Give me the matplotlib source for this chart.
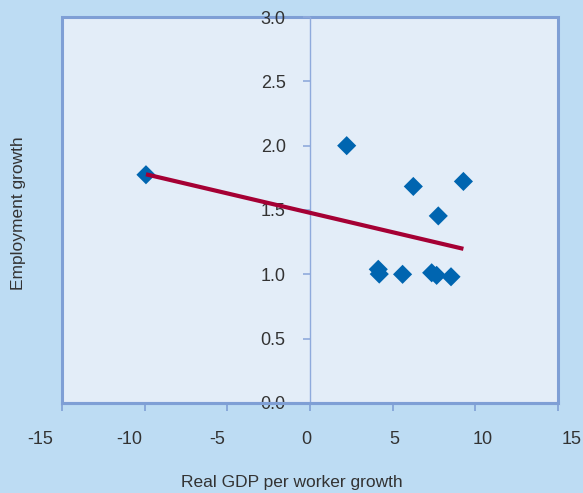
import numpy as np
import matplotlib
matplotlib.use("Agg")
import matplotlib.pyplot as plt
from matplotlib.patches import Rectangle
from matplotlib.transforms import ScaledTranslation

# Real GDP per worker growth vs employment growth
gdp_growth = [-9.92, 2.22, 6.25, 9.28, 7.76, 4.13, 4.19, 5.60, 7.36, 7.66, 8.53]
emp_growth = [1.774, 2.00, 1.683, 1.722, 1.454, 1.039, 1.002, 1.000, 1.012, 0.992, 0.981]

x_ticks = [-15, -10, -5, 0, 5, 10, 15]
y_ticks = [0.0, 0.5, 1.0, 1.5, 2.0, 2.5, 3.0]

outer_bg = "#BDDCF3"
plot_bg = "#E3EDF8"
frame_col = "#7F9FD5"
axis_col = "#8FAADC"
marker_col = "#0065B0"
trend_col = "#A50034"
text_col = "#333333"

plt.rcParams["font.family"] = ["Liberation Sans", "DejaVu Sans"]

fig = plt.figure(figsize=(5.83, 4.93), dpi=100, facecolor=outer_bg)
ax = fig.add_axes([0.1063, 0.1826, 0.8508, 0.7829])
ax.set_facecolor(plot_bg)
ax.set_xlim(-15, 15)
ax.set_ylim(0, 3)

# Frame around the plotting area
ax.add_patch(Rectangle((0, 0), 1, 1, transform=ax.transAxes, fill=False,
                       edgecolor=frame_col, linewidth=2.2, clip_on=False, zorder=1))

for side in ("top", "right"):
    ax.spines[side].set_visible(False)
ax.spines["bottom"].set_color(frame_col)
ax.spines["bottom"].set_linewidth(2.2)
ax.spines["left"].set_position(("data", 0))
ax.spines["left"].set_color(axis_col)
ax.spines["left"].set_linewidth(1.0)

ax.set_xticks(x_ticks)
ax.set_xticklabels([str(v) for v in x_ticks])
ax.set_yticks(y_ticks)
ax.set_yticklabels([f"{v:.1f}" for v in y_ticks])
ax.tick_params(axis="x", direction="out", length=6, width=1.2, color=frame_col,
               pad=14, labelsize=13, labelcolor=text_col)
ax.tick_params(axis="y", direction="out", length=5, width=1.2, color=axis_col,
               pad=12.5, labelsize=13, labelcolor=text_col)

# Category labels spread slightly wider than the tick spacing
for val, lab in zip(x_ticks, ax.get_xticklabels()):
    dx = (-4 + 1.17 * val) / 100.0
    lab.set_transform(lab.get_transform() + ScaledTranslation(dx, 0, fig.dpi_scale_trans))

# Data points and least-squares trend line
ax.scatter(gdp_growth, emp_growth, marker="D", s=95, color=marker_col,
           edgecolors="none", zorder=3, clip_on=False)
slope, intercept = np.polyfit(gdp_growth, emp_growth, 1)
xs = np.array([min(gdp_growth), max(gdp_growth)])
ax.plot(xs, slope * xs + intercept, color=trend_col, linewidth=3, zorder=4,
        solid_capstyle="butt")

fig.text(0.5, 0.022, "Real GDP per worker growth", ha="center", va="center",
         fontsize=12.5, color=text_col)
fig.text(0.031, 0.568, "Employment growth", ha="center", va="center",
         rotation=90, fontsize=12.5, color=text_col)

fig.savefig("out.png", dpi=100, facecolor=outer_bg)
